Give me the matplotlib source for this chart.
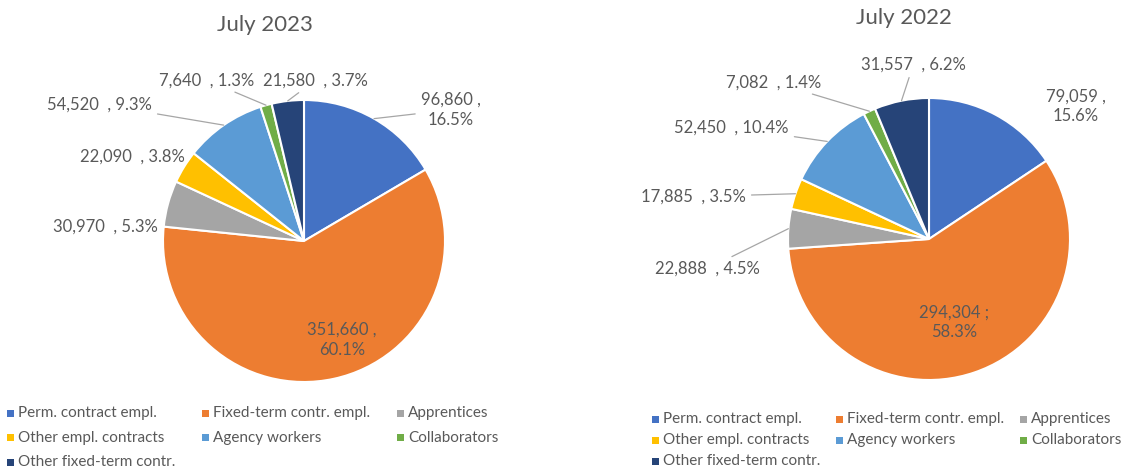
import matplotlib.pyplot as plt
import numpy as np
from matplotlib.patches import Rectangle

plt.rcParams["font.family"] = ["Lato", "DejaVu Sans"]

categories = [
    "Perm. contract empl.",
    "Fixed-term contr. empl.",
    "Apprentices",
    "Other empl. contracts",
    "Agency workers",
    "Collaborators",
    "Other fixed-term contr.",
]
values_2023 = [96860, 351660, 30970, 22090, 54520, 7640, 21580]
pct_2023 = [16.5, 60.1, 5.3, 3.8, 9.3, 1.3, 3.7]
values_2022 = [79059, 294304, 22888, 17885, 52450, 7082, 31557]
pct_2022 = [15.6, 58.3, 4.5, 3.5, 10.4, 1.4, 6.2]

colors = ["#4472C4", "#ED7D31", "#A5A5A5", "#FFC000", "#5B9BD5", "#70AD47", "#264478"]
text_col = "#595959"
line_col = "#A6A6A6"

W, H = 1144, 473
fig = plt.figure(figsize=(W / 100, H / 100), dpi=100)


def pie_axes(cx, cy, r):
    # pixel centre/radius -> axes box
    return fig.add_axes([(cx - r) / W, (H - cy - r) / H, 2 * r / W, 2 * r / H])


# label layout: (dx, dy) in radius units, separator, leader line on/off
layout_2023 = [
    ((1.04, 0.93), " ,\n", True),
    ((0.27, -0.70), " ,\n", False),
    ((-1.41, 0.10), "  , ", False),
    ((-1.22, 0.60), "  , ", False),
    ((-1.45, 0.97), "  , ", True),
    ((-0.69, 1.14), "  , ", True),
    ((0.08, 1.14), "  , ", True),
]
layout_2022 = [
    ((1.04, 0.94), " ,\n", False),
    ((0.18, -0.59), " ;\n", False),
    ((-1.57, -0.21), "  , ", True),
    ((-1.67, 0.30), "  , ", True),
    ((-1.40, 0.79), "  , ", True),
    ((-1.10, 1.11), "  , ", True),
    ((-0.11, 1.24), "  , ", True),
]


def draw_pie(ax, values, pcts, layout, title, title_xy):
    wedges, _ = ax.pie(
        values,
        colors=colors,
        startangle=90,
        counterclock=False,
        wedgeprops=dict(edgecolor="white", linewidth=1.5),
    )
    ax.set_xlim(-1, 1)
    ax.set_ylim(-1, 1)
    ax.set_aspect("equal")
    for w, v, p, (pos, sep, leader) in zip(wedges, values, pcts, layout):
        ang = np.deg2rad((w.theta1 + w.theta2) / 2)
        edge = (np.cos(ang), np.sin(ang))
        label = f"{v:,}{sep}{p}%"
        ax.annotate(
            label,
            xy=edge,
            xytext=pos,
            ha="center",
            va="center",
            fontsize=12,
            color=text_col,
            linespacing=1.3,
            arrowprops=dict(arrowstyle="-", color=line_col, lw=0.9,
                            shrinkA=2, shrinkB=0) if leader else None,
        )
    fig.text(title_xy[0] / W, 1 - title_xy[1] / H, title, ha="center", va="center",
             fontsize=16, color=text_col)


def draw_legend(x0, y0, col_w, row_h):
    # Excel-style legend: 3 fixed-width columns, filled row by row
    for i, (name, c) in enumerate(zip(categories, colors)):
        x = x0 + (i % 3) * col_w
        y = y0 + (i // 3) * row_h
        fig.patches.append(Rectangle(((x - 3.5) / W, 1 - (y + 3.5) / H), 7 / W, 7 / H,
                                     facecolor=c, edgecolor="none",
                                     transform=fig.transFigure))
        fig.text((x + 8) / W, 1 - y / H, name, ha="left", va="center",
                 fontsize=11, color=text_col)


ax1 = pie_axes(304, 241, 141)
draw_pie(ax1, values_2023, pct_2023, layout_2023, "July 2023", (265, 25))
ax2 = pie_axes(929, 239, 141)
draw_pie(ax2, values_2022, pct_2022, layout_2022, "July 2022", (904, 18))

draw_legend(10, 413, 195, 24.5)
draw_legend(655, 419, 184, 21)

fig.savefig("out.png", dpi=100)
